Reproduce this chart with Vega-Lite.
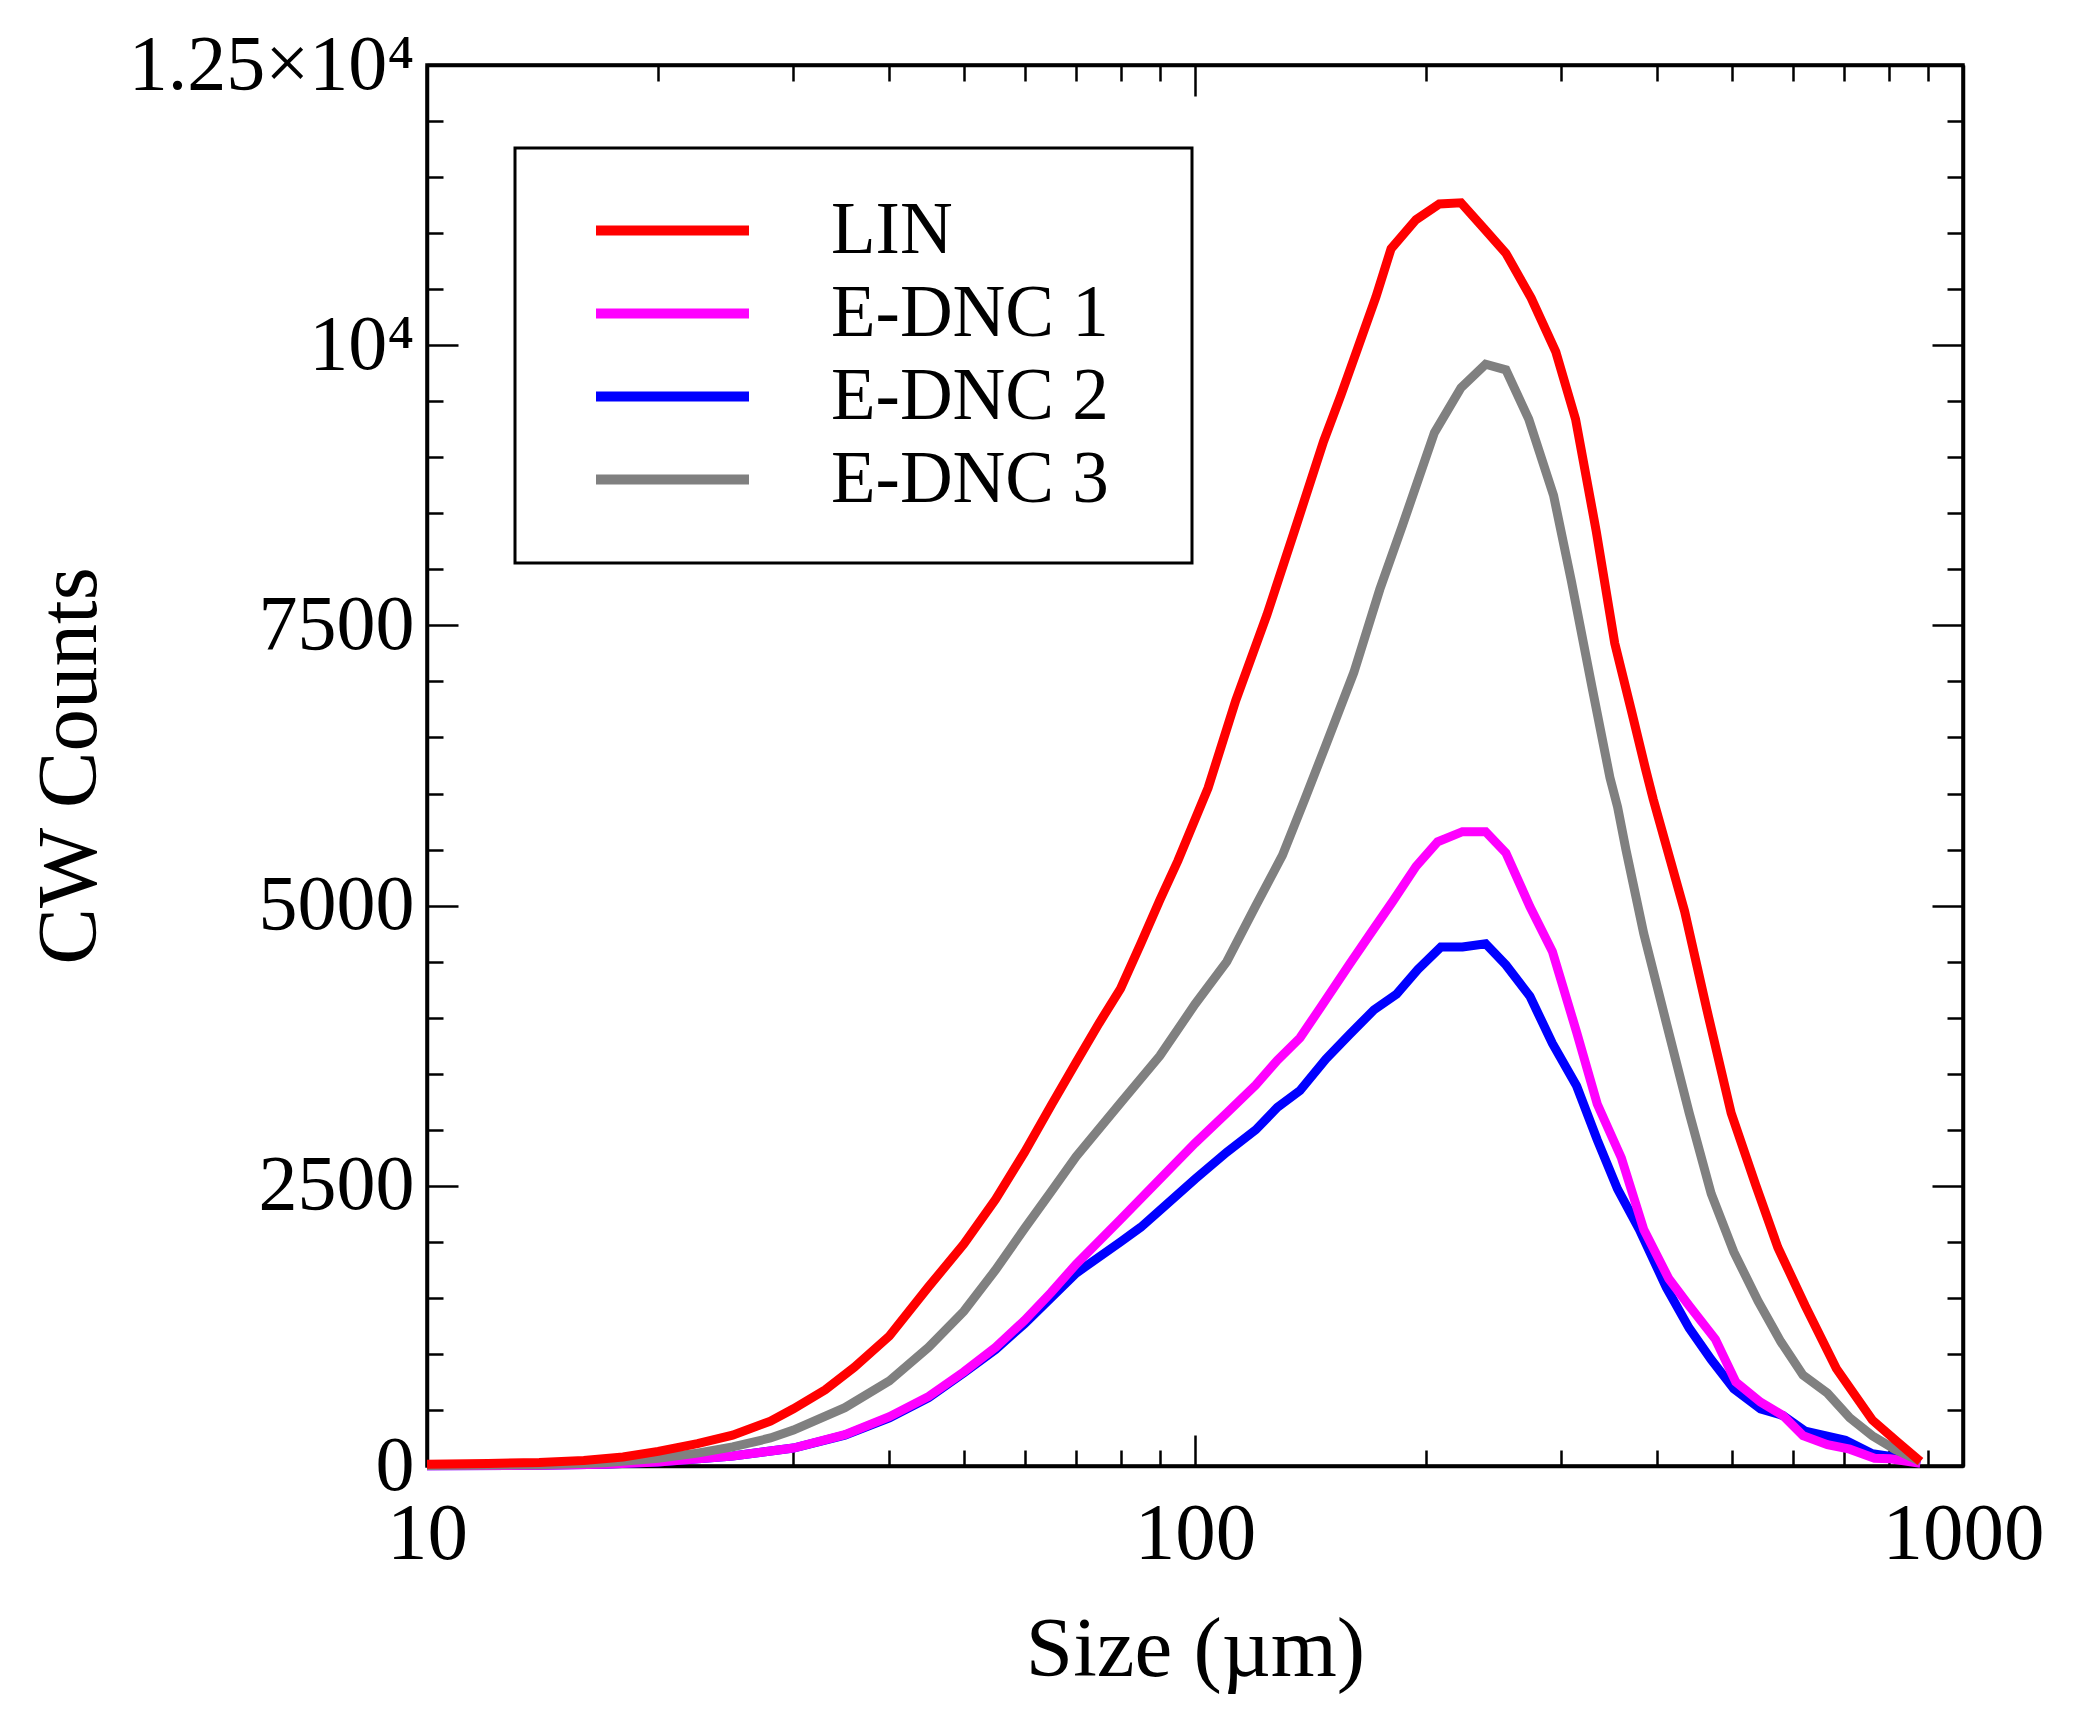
{
  "$schema": "https://vega.github.io/schema/vega-lite/v6.json",
  "width": 1536,
  "height": 1401,
  "autosize": "none",
  "padding": {"left": 427, "top": 65, "right": 112, "bottom": 263},
  "background": "white",
  "config": {
    "font": "Liberation Serif",
    "view": {"stroke": "black", "strokeWidth": 3.5},
    "axis": {
      "grid": false,
      "domainColor": "black",
      "domainWidth": 3.5,
      "tickColor": "black",
      "tickWidth": 2.5,
      "labelColor": "black",
      "titleColor": "black",
      "labelFont": "Liberation Serif",
      "titleFont": "Liberation Serif",
      "titleFontWeight": "normal",
      "labelOverlap": false,
      "labelFlush": false,
      "labelBound": false,
      "labelLimit": 600
    }
  },
  "datasets": {
    "curves": [
      {"series": "E-DNC 2", "size": 10, "counts": 2},
      {"series": "E-DNC 2", "size": 14, "counts": 6},
      {"series": "E-DNC 2", "size": 17, "counts": 15},
      {"series": "E-DNC 2", "size": 20, "counts": 35},
      {"series": "E-DNC 2", "size": 25, "counts": 90},
      {"series": "E-DNC 2", "size": 30, "counts": 160},
      {"series": "E-DNC 2", "size": 35, "counts": 275},
      {"series": "E-DNC 2", "size": 40, "counts": 430},
      {"series": "E-DNC 2", "size": 45, "counts": 610},
      {"series": "E-DNC 2", "size": 50, "counts": 830},
      {"series": "E-DNC 2", "size": 55, "counts": 1040},
      {"series": "E-DNC 2", "size": 60, "counts": 1270},
      {"series": "E-DNC 2", "size": 70, "counts": 1720},
      {"series": "E-DNC 2", "size": 80, "counts": 2000},
      {"series": "E-DNC 2", "size": 85, "counts": 2130},
      {"series": "E-DNC 2", "size": 90, "counts": 2280},
      {"series": "E-DNC 2", "size": 100, "counts": 2560},
      {"series": "E-DNC 2", "size": 110, "counts": 2800},
      {"series": "E-DNC 2", "size": 120, "counts": 3000},
      {"series": "E-DNC 2", "size": 128, "counts": 3200},
      {"series": "E-DNC 2", "size": 137, "counts": 3350},
      {"series": "E-DNC 2", "size": 148, "counts": 3630},
      {"series": "E-DNC 2", "size": 159, "counts": 3850},
      {"series": "E-DNC 2", "size": 171, "counts": 4070},
      {"series": "E-DNC 2", "size": 183, "counts": 4210},
      {"series": "E-DNC 2", "size": 195, "counts": 4430},
      {"series": "E-DNC 2", "size": 209, "counts": 4630},
      {"series": "E-DNC 2", "size": 223, "counts": 4630},
      {"series": "E-DNC 2", "size": 239, "counts": 4660},
      {"series": "E-DNC 2", "size": 254, "counts": 4470},
      {"series": "E-DNC 2", "size": 273, "counts": 4190},
      {"series": "E-DNC 2", "size": 292, "counts": 3770},
      {"series": "E-DNC 2", "size": 314, "counts": 3390},
      {"series": "E-DNC 2", "size": 334, "counts": 2910},
      {"series": "E-DNC 2", "size": 355, "counts": 2470},
      {"series": "E-DNC 2", "size": 379, "counts": 2110},
      {"series": "E-DNC 2", "size": 411, "counts": 1590},
      {"series": "E-DNC 2", "size": 440, "counts": 1230},
      {"series": "E-DNC 2", "size": 470, "counts": 950},
      {"series": "E-DNC 2", "size": 503, "counts": 690},
      {"series": "E-DNC 2", "size": 545, "counts": 510},
      {"series": "E-DNC 2", "size": 583, "counts": 450},
      {"series": "E-DNC 2", "size": 623, "counts": 310},
      {"series": "E-DNC 2", "size": 703, "counts": 230},
      {"series": "E-DNC 2", "size": 762, "counts": 110},
      {"series": "E-DNC 2", "size": 825, "counts": 75},
      {"series": "E-DNC 2", "size": 880, "counts": 25},

      {"series": "E-DNC 1", "size": 10, "counts": 2},
      {"series": "E-DNC 1", "size": 14, "counts": 6},
      {"series": "E-DNC 1", "size": 17, "counts": 15},
      {"series": "E-DNC 1", "size": 20, "counts": 35},
      {"series": "E-DNC 1", "size": 25, "counts": 90},
      {"series": "E-DNC 1", "size": 30, "counts": 160},
      {"series": "E-DNC 1", "size": 35, "counts": 280},
      {"series": "E-DNC 1", "size": 40, "counts": 440},
      {"series": "E-DNC 1", "size": 45, "counts": 620},
      {"series": "E-DNC 1", "size": 50, "counts": 840},
      {"series": "E-DNC 1", "size": 55, "counts": 1060},
      {"series": "E-DNC 1", "size": 60, "counts": 1300},
      {"series": "E-DNC 1", "size": 65, "counts": 1550},
      {"series": "E-DNC 1", "size": 70, "counts": 1800},
      {"series": "E-DNC 1", "size": 80, "counts": 2200},
      {"series": "E-DNC 1", "size": 90, "counts": 2560},
      {"series": "E-DNC 1", "size": 100, "counts": 2880},
      {"series": "E-DNC 1", "size": 110, "counts": 3150},
      {"series": "E-DNC 1", "size": 120, "counts": 3400},
      {"series": "E-DNC 1", "size": 128, "counts": 3620},
      {"series": "E-DNC 1", "size": 137, "counts": 3820},
      {"series": "E-DNC 1", "size": 146, "counts": 4100},
      {"series": "E-DNC 1", "size": 159, "counts": 4480},
      {"series": "E-DNC 1", "size": 170, "counts": 4770},
      {"series": "E-DNC 1", "size": 181, "counts": 5040},
      {"series": "E-DNC 1", "size": 194, "counts": 5350},
      {"series": "E-DNC 1", "size": 207, "counts": 5570},
      {"series": "E-DNC 1", "size": 223, "counts": 5660},
      {"series": "E-DNC 1", "size": 239, "counts": 5660},
      {"series": "E-DNC 1", "size": 254, "counts": 5470},
      {"series": "E-DNC 1", "size": 273, "counts": 4990},
      {"series": "E-DNC 1", "size": 292, "counts": 4590},
      {"series": "E-DNC 1", "size": 314, "counts": 3870},
      {"series": "E-DNC 1", "size": 334, "counts": 3230},
      {"series": "E-DNC 1", "size": 359, "counts": 2750},
      {"series": "E-DNC 1", "size": 384, "counts": 2110},
      {"series": "E-DNC 1", "size": 414, "counts": 1670},
      {"series": "E-DNC 1", "size": 440, "counts": 1430},
      {"series": "E-DNC 1", "size": 476, "counts": 1130},
      {"series": "E-DNC 1", "size": 506, "counts": 750},
      {"series": "E-DNC 1", "size": 545, "counts": 570},
      {"series": "E-DNC 1", "size": 583, "counts": 450},
      {"series": "E-DNC 1", "size": 619, "counts": 270},
      {"series": "E-DNC 1", "size": 666, "counts": 190},
      {"series": "E-DNC 1", "size": 712, "counts": 150},
      {"series": "E-DNC 1", "size": 767, "counts": 70},
      {"series": "E-DNC 1", "size": 804, "counts": 65},
      {"series": "E-DNC 1", "size": 880, "counts": 25},

      {"series": "E-DNC 3", "size": 10, "counts": 5},
      {"series": "E-DNC 3", "size": 14, "counts": 12},
      {"series": "E-DNC 3", "size": 17, "counts": 30},
      {"series": "E-DNC 3", "size": 20, "counts": 70},
      {"series": "E-DNC 3", "size": 22.5, "counts": 115},
      {"series": "E-DNC 3", "size": 25, "counts": 170},
      {"series": "E-DNC 3", "size": 28, "counts": 250},
      {"series": "E-DNC 3", "size": 30, "counts": 320},
      {"series": "E-DNC 3", "size": 35, "counts": 520},
      {"series": "E-DNC 3", "size": 40, "counts": 760},
      {"series": "E-DNC 3", "size": 45, "counts": 1060},
      {"series": "E-DNC 3", "size": 50, "counts": 1380},
      {"series": "E-DNC 3", "size": 55, "counts": 1750},
      {"series": "E-DNC 3", "size": 60, "counts": 2120},
      {"series": "E-DNC 3", "size": 65, "counts": 2450},
      {"series": "E-DNC 3", "size": 70, "counts": 2760},
      {"series": "E-DNC 3", "size": 80, "counts": 3240},
      {"series": "E-DNC 3", "size": 90, "counts": 3660},
      {"series": "E-DNC 3", "size": 100, "counts": 4120},
      {"series": "E-DNC 3", "size": 110, "counts": 4500},
      {"series": "E-DNC 3", "size": 120, "counts": 5000},
      {"series": "E-DNC 3", "size": 130, "counts": 5450},
      {"series": "E-DNC 3", "size": 139, "counts": 5950},
      {"series": "E-DNC 3", "size": 148, "counts": 6430},
      {"series": "E-DNC 3", "size": 161, "counts": 7080},
      {"series": "E-DNC 3", "size": 174, "counts": 7820},
      {"series": "E-DNC 3", "size": 186, "counts": 8380},
      {"series": "E-DNC 3", "size": 205, "counts": 9220},
      {"series": "E-DNC 3", "size": 222, "counts": 9620},
      {"series": "E-DNC 3", "size": 239, "counts": 9830},
      {"series": "E-DNC 3", "size": 254, "counts": 9780},
      {"series": "E-DNC 3", "size": 272, "counts": 9340},
      {"series": "E-DNC 3", "size": 293, "counts": 8660},
      {"series": "E-DNC 3", "size": 309, "counts": 7900},
      {"series": "E-DNC 3", "size": 329, "counts": 6940},
      {"series": "E-DNC 3", "size": 347, "counts": 6140},
      {"series": "E-DNC 3", "size": 355, "counts": 5880},
      {"series": "E-DNC 3", "size": 364, "counts": 5500},
      {"series": "E-DNC 3", "size": 384, "counts": 4750},
      {"series": "E-DNC 3", "size": 411, "counts": 3950},
      {"series": "E-DNC 3", "size": 440, "counts": 3150},
      {"series": "E-DNC 3", "size": 470, "counts": 2430},
      {"series": "E-DNC 3", "size": 503, "counts": 1910},
      {"series": "E-DNC 3", "size": 541, "counts": 1470},
      {"series": "E-DNC 3", "size": 579, "counts": 1110},
      {"series": "E-DNC 3", "size": 619, "counts": 810},
      {"series": "E-DNC 3", "size": 666, "counts": 650},
      {"series": "E-DNC 3", "size": 712, "counts": 430},
      {"series": "E-DNC 3", "size": 762, "counts": 270},
      {"series": "E-DNC 3", "size": 815, "counts": 150},
      {"series": "E-DNC 3", "size": 880, "counts": 40},

      {"series": "LIN", "size": 10, "counts": 15},
      {"series": "LIN", "size": 12, "counts": 22},
      {"series": "LIN", "size": 14, "counts": 32},
      {"series": "LIN", "size": 16, "counts": 50},
      {"series": "LIN", "size": 18, "counts": 80},
      {"series": "LIN", "size": 20, "counts": 130},
      {"series": "LIN", "size": 22.5, "counts": 200},
      {"series": "LIN", "size": 25, "counts": 275},
      {"series": "LIN", "size": 28, "counts": 400},
      {"series": "LIN", "size": 30, "counts": 510},
      {"series": "LIN", "size": 33, "counts": 680},
      {"series": "LIN", "size": 36, "counts": 880},
      {"series": "LIN", "size": 40, "counts": 1160},
      {"series": "LIN", "size": 45, "counts": 1600},
      {"series": "LIN", "size": 50, "counts": 1980},
      {"series": "LIN", "size": 55, "counts": 2380},
      {"series": "LIN", "size": 60, "counts": 2800},
      {"series": "LIN", "size": 65, "counts": 3220},
      {"series": "LIN", "size": 70, "counts": 3600},
      {"series": "LIN", "size": 75, "counts": 3950},
      {"series": "LIN", "size": 80, "counts": 4260},
      {"series": "LIN", "size": 85, "counts": 4660},
      {"series": "LIN", "size": 90, "counts": 5050},
      {"series": "LIN", "size": 95, "counts": 5400},
      {"series": "LIN", "size": 104, "counts": 6050},
      {"series": "LIN", "size": 113, "counts": 6830},
      {"series": "LIN", "size": 124, "counts": 7590},
      {"series": "LIN", "size": 135, "counts": 8360},
      {"series": "LIN", "size": 147, "counts": 9140},
      {"series": "LIN", "size": 155, "counts": 9560},
      {"series": "LIN", "size": 163, "counts": 9980},
      {"series": "LIN", "size": 172, "counts": 10430},
      {"series": "LIN", "size": 180, "counts": 10860},
      {"series": "LIN", "size": 194, "counts": 11120},
      {"series": "LIN", "size": 208, "counts": 11260},
      {"series": "LIN", "size": 222, "counts": 11270},
      {"series": "LIN", "size": 238, "counts": 11040},
      {"series": "LIN", "size": 254, "counts": 10820},
      {"series": "LIN", "size": 274, "counts": 10420},
      {"series": "LIN", "size": 295, "counts": 9940},
      {"series": "LIN", "size": 313, "counts": 9340},
      {"series": "LIN", "size": 333, "counts": 8340},
      {"series": "LIN", "size": 352, "counts": 7340},
      {"series": "LIN", "size": 370, "counts": 6740},
      {"series": "LIN", "size": 386, "counts": 6220},
      {"series": "LIN", "size": 395, "counts": 5950},
      {"series": "LIN", "size": 416, "counts": 5400},
      {"series": "LIN", "size": 434, "counts": 4950},
      {"series": "LIN", "size": 464, "counts": 4070},
      {"series": "LIN", "size": 499, "counts": 3150},
      {"series": "LIN", "size": 537, "counts": 2510},
      {"series": "LIN", "size": 574, "counts": 1950},
      {"series": "LIN", "size": 623, "counts": 1430},
      {"series": "LIN", "size": 684, "counts": 870},
      {"series": "LIN", "size": 762, "counts": 410},
      {"series": "LIN", "size": 820, "counts": 220},
      {"series": "LIN", "size": 880, "counts": 40}
    ]
  },
  "data": {"name": "curves"},
  "layer": [
    {
      "mark": {"type": "line", "strokeWidth": 9, "strokeJoin": "miter", "strokeCap": "butt"},
      "encoding": {
        "x": {
          "field": "size",
          "type": "quantitative",
          "scale": {"type": "log", "domain": [10, 1000], "nice": false},
          "axis": {
            "orient": "bottom",
            "values": [10, 20, 30, 40, 50, 60, 70, 80, 90, 100, 200, 300, 400, 500, 600, 700, 800, 900, 1000],
            "format": "d",
            "labelExpr": "(datum.value == 10 || datum.value == 100 || datum.value == 1000) ? datum.label : ''",
            "tickSize": {"condition": {"test": "datum.value == 10 || datum.value == 100 || datum.value == 1000", "value": -31}, "value": -16},
            "labelPadding": 59,
            "labelFontSize": 81,
            "title": "Size (µm)",
            "titleFontSize": 85,
            "titlePadding": 19
          }
        },
        "y": {
          "field": "counts",
          "type": "quantitative",
          "scale": {"domain": [0, 12500], "nice": false},
          "axis": {
            "orient": "left",
            "values": [0, 500, 1000, 1500, 2000, 2500, 3000, 3500, 4000, 4500, 5000, 5500, 6000, 6500, 7000, 7500, 8000, 8500, 9000, 9500, 10000, 10500, 11000, 11500, 12000, 12500],
            "format": "d",
            "labelExpr": "datum.value == 12500 ? '1.25×10⁴' : (datum.value == 10000 ? '10⁴' : (datum.value % 2500 == 0 ? datum.label : ''))",
            "tickSize": {"condition": {"test": "datum.value % 2500 == 0", "value": -31}, "value": -16},
            "labelPadding": 44,
            "labelFontSize": 78,
            "title": "CW Counts",
            "titleFontSize": 85,
            "titlePadding": 14,
            "minExtent": 300,
            "maxExtent": 300
          }
        },
        "color": {
          "field": "series",
          "type": "nominal",
          "scale": {
            "domain": ["LIN", "E-DNC 1", "E-DNC 2", "E-DNC 3"],
            "range": ["#ff0000", "#ff00ff", "#0000ff", "#808080"]
          },
          "legend": {
            "title": null,
            "orient": "none",
            "legendX": 88,
            "legendY": 83,
            "direction": "vertical",
            "padding": 46,
            "fillColor": "white",
            "strokeColor": "black",
            "symbolType": "M-2.5,0H2.5",
            "symbolSize": 3745,
            "symbolStrokeWidth": 10,
            "symbolOffset": 75,
            "labelOffset": 122,
            "labelFontSize": 73,
            "labelFont": "Liberation Serif",
            "labelColor": "black",
            "labelLimit": 700,
            "rowPadding": 9,
            "labelExpr": "datum.label + '\u2002\u200b'",
            "encode": {"legend": {"update": {"strokeWidth": {"value": 3}}}}
          }
        }
      }
    },
    {
      "mark": {"type": "line", "opacity": 0},
      "encoding": {
        "x": {
          "field": "size",
          "type": "quantitative",
          "scale": {"type": "log", "domain": [10, 1000], "nice": false},
          "axis": {
            "orient": "top",
            "values": [10, 20, 30, 40, 50, 60, 70, 80, 90, 100, 200, 300, 400, 500, 600, 700, 800, 900, 1000],
            "labels": false,
            "tickSize": {"condition": {"test": "datum.value == 10 || datum.value == 100 || datum.value == 1000", "value": -31}, "value": -16},
            "title": null
          }
        },
        "y": {
          "field": "counts",
          "type": "quantitative",
          "scale": {"domain": [0, 12500], "nice": false},
          "axis": {
            "orient": "right",
            "values": [0, 500, 1000, 1500, 2000, 2500, 3000, 3500, 4000, 4500, 5000, 5500, 6000, 6500, 7000, 7500, 8000, 8500, 9000, 9500, 10000, 10500, 11000, 11500, 12000, 12500],
            "labels": false,
            "tickSize": {"condition": {"test": "datum.value % 2500 == 0", "value": -31}, "value": -16},
            "title": null
          }
        },
        "detail": {"field": "series", "type": "nominal"}
      }
    }
  ],
  "resolve": {"axis": {"x": "independent", "y": "independent"}}
}
